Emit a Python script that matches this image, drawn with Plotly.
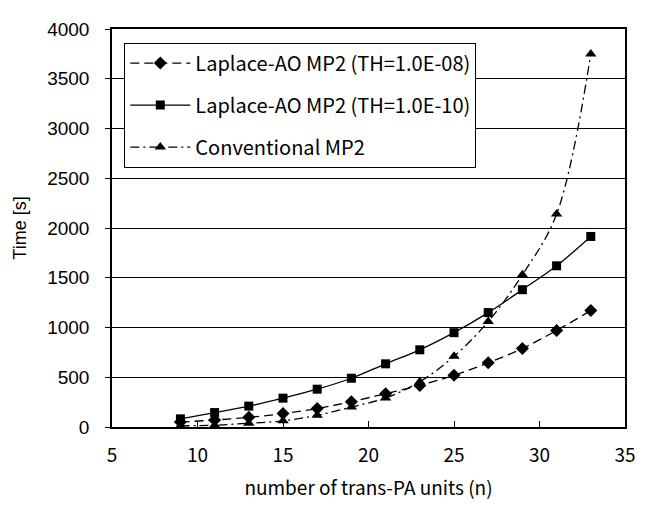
import plotly.graph_objects as go

n_units = [9, 11, 13, 15, 17, 19, 21, 23, 25, 27, 29, 31, 33]
laplace_th08 = [50, 70, 97, 135, 185, 255, 335, 418, 520, 645, 790, 970, 1170]
laplace_th10 = [82, 145, 210, 290, 380, 490, 635, 776, 948, 1150, 1380, 1620, 1915]
conventional = [12, 18, 38, 62, 118, 200, 292, 455, 710, 1060, 1530, 2140, 3750]

names = ["Laplace-AO MP2 (TH=1.0E-08)", "Laplace-AO MP2 (TH=1.0E-10)", "Conventional MP2"]

fig = go.Figure()
fig.add_trace(go.Scatter(x=n_units, y=laplace_th08, name=names[0], mode="lines+markers",
                         line=dict(color="black", width=1.3, dash="9px,5px", shape="spline"),
                         marker=dict(symbol="diamond", size=10, color="black"), legendgroup="a"))
fig.add_trace(go.Scatter(x=n_units, y=laplace_th10, name=names[1], mode="lines+markers",
                         line=dict(color="black", width=1.3, shape="spline"),
                         marker=dict(symbol="square", size=9, color="black"), legendgroup="b"))
fig.add_trace(go.Scatter(x=n_units, y=conventional, name=names[2], mode="lines+markers",
                         line=dict(color="black", width=1.3, dash="9px,4px,2px,4px", shape="spline"),
                         marker=dict(symbol="triangle-up", size=10, color="black"), legendgroup="c"))

gothic = "Noto Sans CJK JP"
arial = "Liberation Sans, Arial"

fig.update_layout(
    width=639, height=499,
    margin=dict(l=94, r=11, t=14, b=72),
    paper_bgcolor="white", plot_bgcolor="white",
    showlegend=True,
    legend=dict(x=0.024, y=0.966, xanchor="left", yanchor="top",
                bgcolor="white", bordercolor="black", borderwidth=1,
                font=dict(family=gothic, size=20, color="black"),
                itemwidth=60,
                tracegroupgap=13, traceorder="grouped"),
    xaxis=dict(range=[5, 35], dtick=5, tick0=5, showgrid=False, zeroline=False,
               showline=True, linecolor="black", linewidth=1.5, mirror=True,
               ticks="inside", ticklen=6, tickcolor="black", ticklabelstandoff=10,
               tickfont=dict(family=gothic, size=19, color="black"),
               title=dict(text="number of trans-PA units (n)", standoff=16,
                          font=dict(family=gothic, size=19, color="black"))),
    yaxis=dict(range=[0, 4000], dtick=500, showgrid=True, gridcolor="black", gridwidth=1,
               zeroline=False, showline=True, linecolor="black", linewidth=1.5, mirror=True,
               ticks="outside", ticklen=5, tickcolor="black", ticklabelstandoff=12,
               tickfont=dict(family=arial, size=19, color="black"),
               title=dict(text="Time [s]", standoff=16,
                          font=dict(family=arial, size=18, color="black"))),
)

fig.write_html("out.html")
